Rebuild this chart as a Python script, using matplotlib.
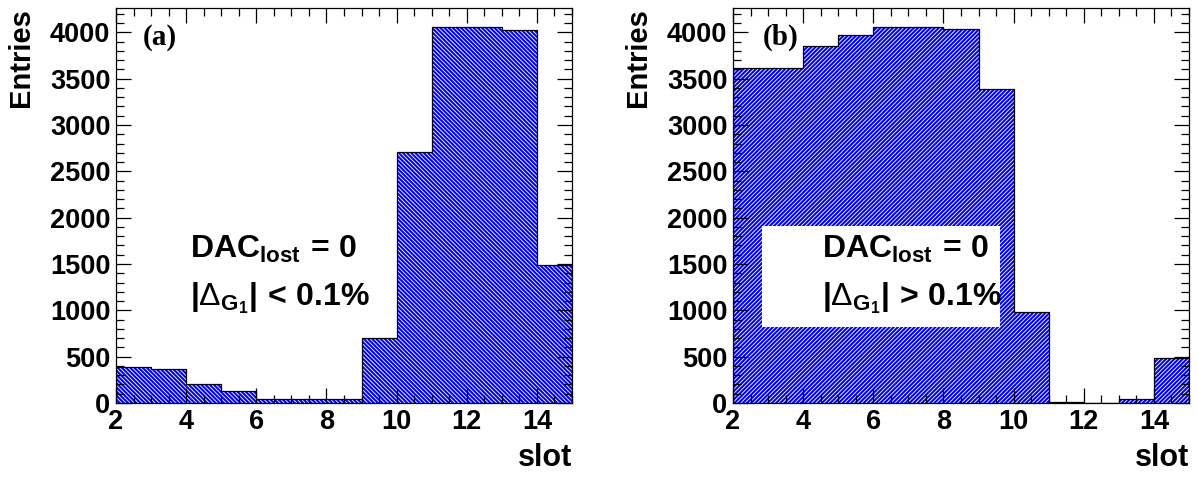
import matplotlib.pyplot as plt
from matplotlib.patches import Rectangle
from matplotlib.ticker import MultipleLocator
import numpy as np

# bords des bins (slot 2 -> 15)
bords = np.arange(2, 16)
entrees_a = [392, 364, 205, 128, 43, 46, 46, 700, 2714, 4060, 4060, 4025, 1490]
entrees_b = [3611, 3611, 3849, 3975, 4060, 4055, 4035, 3391, 980, 8, 3, 40, 490]
etiquettes = ["(a)", "(b)"]
textes = [(r"$\mathbf{DAC_{lost}\,=\,0}$", r"$\mathbf{|\mathrm{\Delta}_{G_1}|\,<\,0.1\%}$"),
          (r"$\mathbf{DAC_{lost}\,=\,0}$", r"$\mathbf{|\mathrm{\Delta}_{G_1}|\,>\,0.1\%}$")]

plt.rcParams['mathtext.fontset'] = 'custom'
plt.rcParams['mathtext.rm'] = 'Liberation Sans'
plt.rcParams['mathtext.bf'] = 'Liberation Sans:bold'
plt.rcParams['mathtext.it'] = 'Liberation Sans:italic'
plt.rcParams['font.family'] = 'Liberation Sans'
plt.rcParams['hatch.linewidth'] = 1.5

fig = plt.figure(figsize=(11.97, 4.79), dpi=100)
gauches = [116 / 1197, 733 / 1197]
ymax = 1.05 * max(max(entrees_a), max(entrees_b))

for i, (valeurs, hachure) in enumerate([(entrees_a, '\\' * 8), (entrees_b, '/' * 8)]):
    ax = fig.add_axes([gauches[i], 76 / 479, 456 / 1197, 395 / 479])
    ax.stairs(valeurs, bords, fill=True, facecolor='white', edgecolor='#0000ff',
              hatch=hachure, linewidth=0)
    ax.stairs(valeurs, bords, color='black', linewidth=0.9)
    ax.set_xlim(2, 15)
    ax.set_ylim(0, ymax)

    ax.xaxis.set_major_locator(MultipleLocator(2))
    ax.xaxis.set_minor_locator(MultipleLocator(0.5))
    ax.yaxis.set_major_locator(MultipleLocator(500))
    ax.yaxis.set_minor_locator(MultipleLocator(100))
    ax.tick_params(which='both', direction='in', top=True, right=True, width=0.9)
    ax.tick_params(which='major', length=11)
    ax.tick_params(which='minor', length=5.5)
    ax.tick_params(axis='x', which='major', pad=4)
    ax.tick_params(axis='y', which='major', pad=4)
    for lab in ax.get_xticklabels() + ax.get_yticklabels():
        lab.set_fontsize(19.5)
        lab.set_fontweight('bold')
    for s in ax.spines.values():
        s.set_linewidth(0.9)

    ax.set_ylabel("Entries", fontsize=21, fontweight='bold', loc='top')
    ax.yaxis.set_label_coords(-0.178, 1.0)
    ax.set_xlabel("slot", fontsize=22, fontweight='bold', loc='right')
    ax.xaxis.set_label_coords(1.0, -0.10)

    ax.text(2.77 if i == 0 else 2.86, 3870, etiquettes[i], fontsize=21, fontweight='bold',
            family='Liberation Serif', va='baseline')

    if i == 1:
        ax.add_patch(Rectangle((2.82, 825), 9.61 - 2.82, 1906 - 825,
                               facecolor='white', edgecolor='none', zorder=3))
    x0 = 4.11 if i == 0 else 4.54
    ax.text(x0, 1570, textes[i][0], fontsize=23, va='baseline', zorder=4)
    ax.text(x0, 1050, textes[i][1], fontsize=23, va='baseline', zorder=4)

fig.savefig("out.png", dpi=100)
